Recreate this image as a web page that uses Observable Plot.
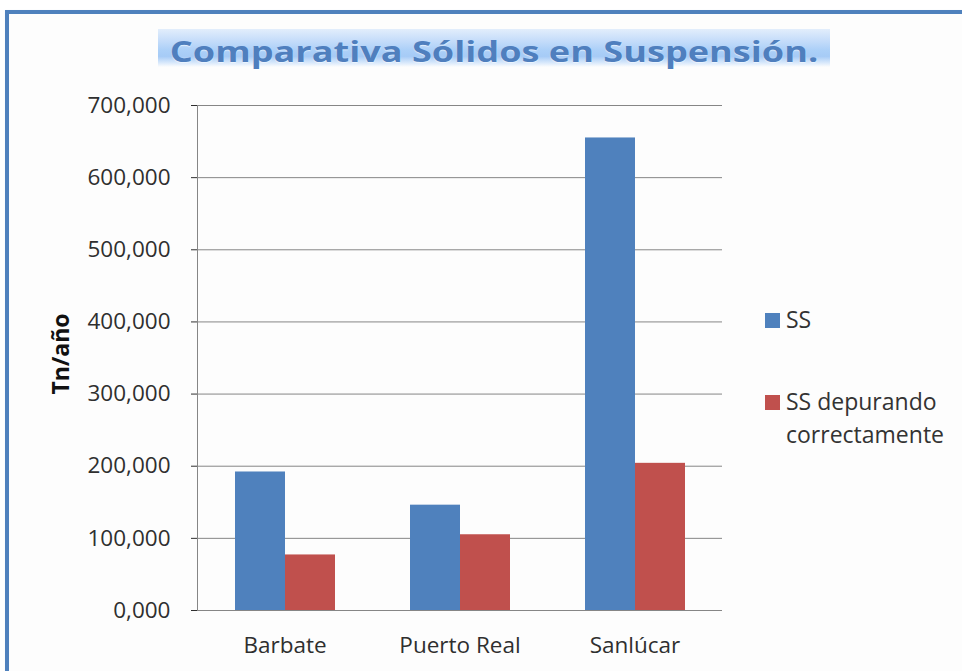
<!DOCTYPE html>
<html>
<head>
<meta charset="utf-8">
<script src="https://cdn.jsdelivr.net/npm/d3@7"></script>
<script src="https://cdn.jsdelivr.net/npm/@observablehq/plot@0.6"></script>
<style>
  body { margin: 0; background: #ffffff; }
  #wrap { position: relative; width: 962px; height: 671px; overflow: hidden; font-family: "Open Sans", sans-serif; }
  #panel { position: absolute; left: 5px; top: 10px; width: 970px; height: 680px;
           border-top: 4px solid #4f81bd; border-left: 4px solid #4f81bd; background: #fdfdfd;
           box-shadow: 1px 1px 2px rgba(80,120,180,0.25); }
  #chart { position: absolute; left: 0; top: 0; }
  #titleBand { position: absolute; left: 158px; top: 29px; width: 672px; height: 38px;
               background: linear-gradient(to bottom, #e2eefc 0%, #c6ddfa 30%, #acd0f8 55%, #a6cbf6 72%, #d6e7fb 88%, #fdfdfd 100%); }
  #title { position: absolute; left: 158px; top: 37px; width: 672px; text-align: center;
           font-family: "Open Sans", sans-serif; font-weight: 700; font-size: 28px; line-height: 28px;
           color: #4f7fbe; white-space: nowrap; transform: scaleX(1.29); transform-origin: 50% 50%;
           text-shadow: 0 1px 1px rgba(255,255,255,0.6); }
  #ylabel { position: absolute; left: 60px; top: 354px; transform: translate(-50%, -50%) rotate(-90deg);
            font-family: "Open Sans", sans-serif; font-weight: 700; font-size: 23px; color: #111; white-space: nowrap; }
  #legend { position: absolute; left: 765px; top: 303px; font-family: "Open Sans", sans-serif; font-size: 23px; color: #333; }
  .item { position: absolute; left: 0; width: 195px; line-height: 33px; }
  .sw { position: absolute; left: 0; width: 15px; height: 15px; }
  .lbl { position: absolute; left: 21px; width: 180px; }
</style>
</head>
<body>
<div id="wrap">
  <div id="panel"></div>
  <div id="titleBand"></div>
  <div id="title">Comparativa Sólidos en Suspensión.</div>
  <div id="chart"></div>
  <div id="ylabel">Tn/año</div>
  <div id="legend"></div>
</div>
<script>
const categories = ["Barbate", "Puerto Real", "Sanlúcar"];
const series = ["SS", "SS depurando correctamente"];
const ssValues = [192, 146, 655];
const ssDepuradoValues = [77, 105, 204];
const yTicks = [0, 100, 200, 300, 400, 500, 600, 700];
const colors = ["#4f81bd", "#c0504d"];

const data = categories.flatMap((c, i) => [
  {category: c, series: series[0], value: ssValues[i]},
  {category: c, series: series[1], value: ssDepuradoValues[i]}
]);

const fmt = d => d.toFixed(3).replace(".", ",");

const chart = Plot.plot({
  width: 962,
  height: 671,
  marginLeft: 197,
  marginRight: 240,
  marginTop: 105,
  marginBottom: 61,
  style: {fontFamily: '"Open Sans", sans-serif', fontSize: "22.5px", color: "#2f2f2f", background: "transparent", overflow: "visible"},
  fx: {domain: categories, padding: 0, label: null, axis: "bottom", tickSize: 0, tickPadding: 27},
  x: {domain: series, paddingInner: 0, paddingOuter: 0.716, axis: null},
  y: {domain: [0, 700], ticks: yTicks, tickFormat: fmt, label: null, tickSize: 6, tickPadding: 21},
  color: {domain: series, range: colors},
  marks: [
    Plot.gridY(yTicks, {stroke: "#868686", strokeOpacity: 1}),
    Plot.barY(data, {fx: "category", x: "series", y: "value", fill: "series"}),
    Plot.ruleY([0], {stroke: "#868686"}),
    Plot.frame({anchor: "left", stroke: "#868686", fx: () => categories[0]})
  ]
});
document.getElementById("chart").appendChild(chart);

const legend = document.getElementById("legend");
const tops = [0, 82];
series.forEach((s, i) => {
  const item = document.createElement("div");
  item.className = "item";
  item.style.top = tops[i] + "px";
  const sw = document.createElement("div");
  sw.className = "sw";
  sw.style.background = colors[i];
  sw.style.top = "10px";
  const lbl = document.createElement("div");
  lbl.className = "lbl";
  lbl.textContent = s;
  item.appendChild(sw);
  item.appendChild(lbl);
  legend.appendChild(item);
});
</script>
</body>
</html>
